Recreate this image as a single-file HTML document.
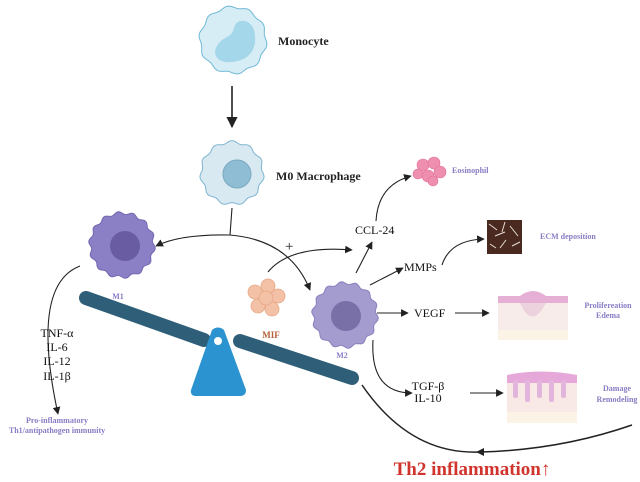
<!DOCTYPE html>
<html><head><meta charset="utf-8"><style>
html,body{margin:0;padding:0;background:#fff;}
svg{display:block;font-family:"Liberation Serif",serif;}
</style></head><body>
<svg id="s" width="640" height="482" viewBox="0 0 640 482" xmlns="http://www.w3.org/2000/svg">
<defs>
<marker id="a" viewBox="0 0 10 10" refX="9" refY="5" markerWidth="7" markerHeight="7" orient="auto-start-reverse"><path d="M0,0 L10,5 L0,10 z" fill="#222"/></marker>
</defs>
<g id="cells"></g>
<path d="M222,40 C210,50 214,64 232,62 C252,60 258,46 254,30 C250,18 236,18 234,28 C232,36 228,36 222,40z" fill="#9fd4e8" opacity="0.9"/>
<circle cx="237" cy="174" r="14" fill="#8fbdd4" stroke="#7aa9c0"/>
<circle cx="125" cy="246" r="15" fill="#6a5ca3"/>
<circle cx="346" cy="316" r="15" fill="#7a70a8"/>
<g fill="#f3c2a6" stroke="#e8a888" stroke-width="0.8">
<circle cx="255" cy="292" r="7"/><circle cx="268" cy="286" r="7"/><circle cx="278" cy="296" r="7"/><circle cx="258" cy="306" r="7"/><circle cx="272" cy="309" r="7"/><circle cx="266" cy="298" r="7"/>
</g>
<g fill="#ef8fb0" stroke="#e47098" stroke-width="0.6">
<circle cx="423" cy="165" r="6"/><circle cx="434" cy="163" r="6"/><circle cx="440" cy="172" r="6"/><circle cx="428" cy="176" r="6"/><circle cx="418" cy="174" r="5"/><circle cx="433" cy="181" r="5"/>
</g>
<rect x="487" y="220" width="35" height="34" fill="#4a2a20"/>
<path d="M489,224 l8,6 M495,236 l10,-4 M500,248 l6,-8 M510,226 l8,10 M490,244 l6,4 M512,246 l8,-4 M505,222 l-3,10" stroke="#e8ddd6" stroke-width="1"/>
<rect x="498" y="296" width="70" height="44" fill="#f8ecea"/>
<rect x="498" y="330" width="70" height="10" fill="#faf3e6"/>
<path d="M498,296 L520,296 Q533,286 546,296 L568,296 L568,303 L498,303z" fill="#e6b0d6"/>
<path d="M520,303 Q532,330 546,303z" fill="#ecd2dc"/>
<rect x="507" y="375" width="70" height="48" fill="#f8e8e6"/>
<rect x="507" y="412" width="70" height="11" fill="#faf3e6"/>
<path d="M507,375 Q540,368 577,375 L577,383 L507,383z" fill="#e6a8d8"/>
<g fill="#e2b6dc"><rect x="513" y="380" width="5" height="18" rx="2"/><rect x="525" y="380" width="5" height="22" rx="2"/><rect x="537" y="380" width="5" height="18" rx="2"/><rect x="549" y="380" width="5" height="22" rx="2"/><rect x="561" y="380" width="5" height="18" rx="2"/></g>
<line x1="86" y1="298" x2="204" y2="340" stroke="#2f5f78" stroke-width="14" stroke-linecap="round"/>
<line x1="240" y1="341" x2="352" y2="378" stroke="#2f5f78" stroke-width="14" stroke-linecap="round"/>
<path d="M212,330 Q218,325 224,330 L246,390 Q246,396 240,396 L196,396 Q190,396 191,390z" fill="#2b93cf"/>
<circle cx="218" cy="341" r="4" fill="#fff"/>
<g fill="none" stroke="#222" stroke-width="1.1">
<line x1="232" y1="86" x2="232" y2="127" stroke-width="1.6" marker-end="url(#a)"/>
<path d="M232,208 L230,235"/>
<path d="M230,235 Q180,234 156,246" marker-end="url(#a)"/>
<path d="M230,235 Q290,240 310,290" marker-end="url(#a)"/>
<path d="M268,272 Q290,245 352,250" marker-end="url(#a)"/>
<path d="M80,266 Q30,285 58,414" marker-end="url(#a)"/>
<path d="M356,273 L372,242" marker-end="url(#a)"/>
<path d="M376,221 Q378,185 411,176" marker-end="url(#a)"/>
<path d="M370,285 L403,268" marker-end="url(#a)"/>
<path d="M442,265 Q450,240 484,239" marker-end="url(#a)"/>
<path d="M377,313 L408,313" marker-end="url(#a)"/>
<path d="M455,313 L489,313" marker-end="url(#a)"/>
<path d="M373,340 Q370,393 412,393" marker-end="url(#a)"/>
<path d="M470,393 L503,393" marker-end="url(#a)"/>
<path d="M362,385 Q410,455 480,452 Q560,450 632,425" stroke-width="1.5"/>
</g>
<path d="M476,448 L484,452 L476,456z" fill="#222" transform="rotate(180 480 452)"/>
<g font-weight="bold" font-size="12" fill="#222">
<text x="278" y="45">Monocyte</text>
<text x="276" y="180">M0 Macrophage</text>
</g>
<text x="285" y="251" font-size="15" fill="#222">+</text>
<g font-size="12" fill="#111">
<text x="355" y="234">CCL-24</text>
<text x="404" y="271">MMPs</text>
<text x="414" y="317">VEGF</text>
<text x="428" y="390" text-anchor="middle">TGF-β</text>
<text x="428" y="402" text-anchor="middle">IL-10</text>
<text x="57" y="337" text-anchor="middle">TNF-α</text>
<text x="57" y="351" text-anchor="middle">IL-6</text>
<text x="57" y="365" text-anchor="middle">IL-12</text>
<text x="57" y="380" text-anchor="middle">IL-1β</text>
</g>
<g font-weight="bold" font-size="8" fill="#8a7cc4">
<text x="118" y="299" text-anchor="middle">M1</text>
<text x="342" y="358" text-anchor="middle">M2</text>
<text x="452" y="173">Eosinophil</text>
<text x="540" y="239">ECM deposition</text>
<text x="608" y="308" text-anchor="middle">Prolifereation</text>
<text x="608" y="318" text-anchor="middle">Edema</text>
<text x="617" y="391" text-anchor="middle">Damage</text>
<text x="617" y="402" text-anchor="middle">Remodeling</text>
<text x="57" y="423" text-anchor="middle" font-size="8">Pro-inflammatory</text>
<text x="57" y="433" text-anchor="middle" font-size="8">Th1/antipathogen immunity</text>
</g>
<text x="271" y="338" font-weight="bold" font-size="9" fill="#b5623a" text-anchor="middle">MIF</text>
<text x="472" y="475" font-weight="bold" font-size="19" fill="#d0342c" text-anchor="middle">Th2 inflammation↑</text>
</svg>
<script>
(function(){
var g=document.getElementById('cells');
function wavy(cx,cy,r,amp,n,fill,stroke){
 var d='';for(var i=0;i<=180;i++){var t=i/180*Math.PI*2;var rr=r+amp*Math.sin(n*t);
 d+=(i?'L':'M')+(cx+rr*Math.cos(t)).toFixed(1)+','+(cy+rr*Math.sin(t)).toFixed(1);}
 var p=document.createElementNS('http://www.w3.org/2000/svg','path');
 p.setAttribute('d',d+'Z');p.setAttribute('fill',fill);p.setAttribute('stroke',stroke);p.setAttribute('stroke-width','1');g.appendChild(p);}
wavy(233,40,33,1.2,10,'#d6edf6','#6fb8d6');
wavy(232,173,31,1.3,11,'#d8e9f2','#7fb5d0');
wavy(122,245,32,1.4,14,'#8b7fc6','#7466b0');
wavy(345,315,32,1.4,14,'#a49ccf','#8a80bd');
})();
</script>
</body></html>
